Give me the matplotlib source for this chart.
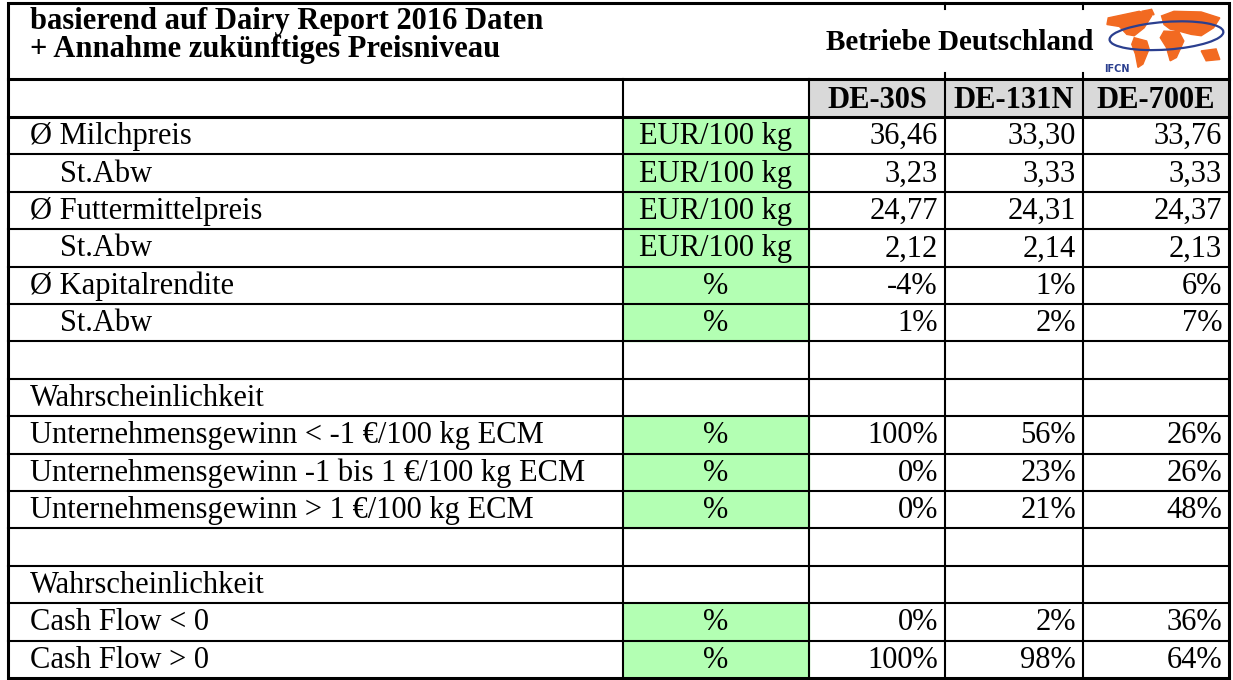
import matplotlib
matplotlib.use("Agg")
import matplotlib.pyplot as plt
from matplotlib.patches import Rectangle, Polygon, Arc

# ---------- table content ----------
title_lines = ["basierend auf Dairy Report 2016 Daten", "+ Annahme zukünftiges Preisniveau"]
region_label = "Betriebe Deutschland"
farms = ["DE-30S", "DE-131N", "DE-700E"]

row_labels = ["Ø Milchpreis", "St.Abw", "Ø Futtermittelpreis", "St.Abw",
              "Ø Kapitalrendite", "St.Abw", "", "Wahrscheinlichkeit",
              "Unternehmensgewinn < -1 €/100 kg ECM",
              "Unternehmensgewinn -1 bis 1 €/100 kg ECM",
              "Unternehmensgewinn > 1 €/100 kg ECM", "", "Wahrscheinlichkeit",
              "Cash Flow < 0", "Cash Flow > 0"]
indented = [False, True, False, True, False, True, False, False,
            False, False, False, False, False, False, False]
units = ["EUR/100 kg", "EUR/100 kg", "EUR/100 kg", "EUR/100 kg", "%", "%",
         "", "", "%", "%", "%", "", "", "%", "%"]
de30s = ["36,46", "3,23", "24,77", "2,12", "-4%", "1%", "", "",
         "100%", "0%", "0%", "", "", "0%", "100%"]
de131n = ["33,30", "3,33", "24,31", "2,14", "1%", "2%", "", "",
          "56%", "23%", "21%", "", "", "2%", "98%"]
de700e = ["33,76", "3,33", "24,37", "2,13", "6%", "7%", "", "",
          "26%", "26%", "48%", "", "", "36%", "64%"]
values = [de30s, de131n, de700e]

# ---------- layout (pixels) ----------
W, H = 1233, 680
col_x = [8, 623, 809, 945, 1083, 1229]
top, head1, head2 = 3, 79, 117
row_h = (678 - head2) / len(row_labels)
green = "#b3ffb3"
grey = "#d9d9d9"
serif = ["Liberation Serif", "DejaVu Serif"]
fs = 22
lw_in, lw_out = 1.5, 2.2

fig = plt.figure(figsize=(W / 100, H / 100), dpi=100)
ax = fig.add_axes([0, 0, 1, 1])
ax.set_xlim(0, W)
ax.set_ylim(H, 0)
ax.axis("off")

# header
ax.text(col_x[0] + 22, 22, title_lines[0], fontsize=fs, fontweight="bold",
        family=serif, va="center", ha="left")
ax.text(col_x[0] + 22, 50, title_lines[1], fontsize=fs, fontweight="bold",
        family=serif, va="center", ha="left")
ax.text(1093, 42, region_label, fontsize=fs - 1, fontweight="bold",
        family=serif, va="center", ha="right")

for i, f in enumerate(farms):
    x0, x1 = col_x[i + 2], col_x[i + 3]
    ax.add_patch(Rectangle((x0, head1), x1 - x0, head2 - head1, color=grey, zorder=0))
    ax.text((x0 + x1) / 2, (head1 + head2) / 2 + 2, f, fontsize=fs,
            fontweight="bold", family=serif, ha="center", va="center")

# body rows
for r, lab in enumerate(row_labels):
    y0 = head2 + r * row_h
    yc = y0 + row_h / 2 + 1
    if units[r]:
        ax.add_patch(Rectangle((col_x[1], y0), col_x[2] - col_x[1], row_h,
                               color=green, zorder=0))
        ax.text((col_x[1] + col_x[2]) / 2, yc, units[r], fontsize=fs,
                family=serif, ha="center", va="center")
    if lab:
        ax.text(col_x[0] + (52 if indented[r] else 22), yc, lab, fontsize=fs,
                family=serif, ha="left", va="center")
    for c, vals in enumerate(values):
        if vals[r]:
            ax.text(col_x[c + 3] - 7, yc, vals[r], fontsize=fs, family=serif,
                    ha="right", va="center")

# grid lines
bottom = head2 + len(row_labels) * row_h
for r in range(1, len(row_labels)):
    y = head2 + r * row_h
    ax.plot([col_x[0], col_x[-1]], [y, y], color="black", lw=lw_in)
for x in col_x[1:-1]:
    ax.plot([x, x], [head1, bottom], color="black", lw=lw_in)
for x in col_x[3:5]:
    ax.plot([x, x], [top, top + 6], color="black", lw=lw_in)
    ax.plot([x, x], [head1 - 6, head1], color="black", lw=lw_in)
ax.plot([col_x[0], col_x[-1]], [head1, head1], color="black", lw=lw_out)
ax.plot([col_x[0], col_x[-1]], [head2, head2], color="black", lw=lw_out)
ax.add_patch(Rectangle((col_x[0], top), col_x[-1] - col_x[0], bottom - top,
                       fill=False, ec="black", lw=lw_out, zorder=5))

# IFCN logo (rough sketch)
lx, ly, lw_, lh = 1102, 8, 124, 66
def P(pts):
    return [(lx + px * lw_, ly + py * lh) for px, py in pts]
orange = "#f26a21"
shapes = [
    [(0.05, 0.15), (0.30, 0.05), (0.40, 0.12), (0.34, 0.30), (0.26, 0.42),
     (0.20, 0.40), (0.14, 0.28), (0.04, 0.25)],
    [(0.26, 0.45), (0.36, 0.50), (0.38, 0.62), (0.33, 0.85), (0.29, 0.90),
     (0.27, 0.70), (0.24, 0.55)],
    [(0.32, 0.05), (0.40, 0.02), (0.42, 0.10), (0.36, 0.12)],
    [(0.48, 0.12), (0.58, 0.05), (0.80, 0.06), (0.95, 0.15), (0.90, 0.30),
     (0.80, 0.42), (0.72, 0.40), (0.62, 0.35), (0.55, 0.32), (0.50, 0.25)],
    [(0.50, 0.35), (0.62, 0.36), (0.66, 0.50), (0.60, 0.75), (0.55, 0.80),
     (0.52, 0.60), (0.47, 0.45)],
    [(0.80, 0.65), (0.92, 0.62), (0.95, 0.78), (0.84, 0.80)],
]
for s in shapes:
    ax.add_patch(Polygon(P(s), closed=True, color=orange, zorder=3))
ax.add_patch(Arc((lx + 0.52 * lw_, ly + 0.42 * lh), 0.92 * lw_, 0.42 * lh,
                 angle=-4, color="#2b3f8f", lw=1.6, zorder=4))
ax.text(lx + 0.02 * lw_, ly + 0.92 * lh, "IFCN", fontsize=7, fontweight="bold",
        color="#2b3f8f", family=["DejaVu Sans"], ha="left", va="center", zorder=4)

fig.savefig("out.png", dpi=100)
